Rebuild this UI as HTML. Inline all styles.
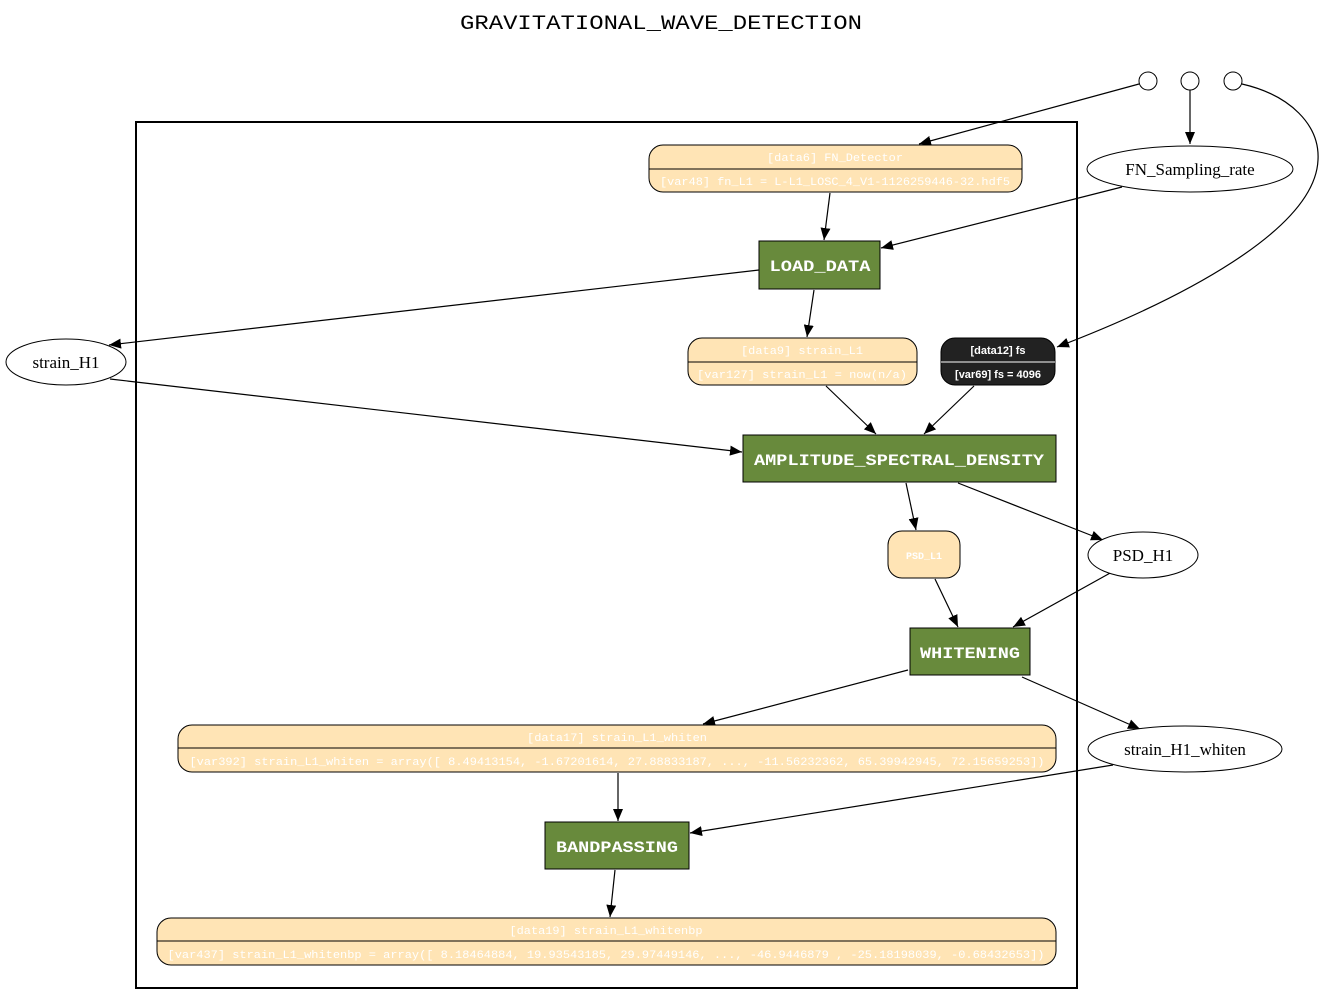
<!DOCTYPE html>
<html><head><meta charset="utf-8"><style>
html,body{margin:0;padding:0;background:#fff;}
svg{display:block;}
.mono{font-family:"Liberation Mono",monospace;}
.serif{font-family:"Liberation Serif",serif;}
.sans{font-family:"Liberation Sans",sans-serif;}
</style></head><body>
<svg width="1323" height="1004" viewBox="0 0 1323 1004" xmlns="http://www.w3.org/2000/svg">
<defs>
<marker id="a" markerWidth="12" markerHeight="10" refX="12" refY="5" orient="auto" markerUnits="userSpaceOnUse">
<path d="M0,0 L12,5 L0,10 Z" fill="#000"/>
</marker>
</defs>
<text x="661" y="29" text-anchor="middle" class="mono" font-size="20" textLength="402" lengthAdjust="spacingAndGlyphs">GRAVITATIONAL_WAVE_DETECTION</text>
<rect x="136" y="122" width="941" height="866" fill="none" stroke="#000" stroke-width="2"/>

<circle cx="1148" cy="81" r="9" fill="#fff" stroke="#000"/>
<circle cx="1190" cy="81" r="9" fill="#fff" stroke="#000"/>
<circle cx="1233" cy="81" r="9" fill="#fff" stroke="#000"/>

<g stroke="#000" stroke-width="1.2" fill="none" marker-end="url(#a)">
<line x1="1139" y1="84" x2="919" y2="144"/>
<line x1="1190" y1="90" x2="1190" y2="144"/>
<path d="M1242,84 C1290,95 1320,125 1318,160 C1315,230 1180,300 1057,347"/>
<line x1="830" y1="193" x2="824" y2="240"/>
<line x1="1122" y1="187" x2="881" y2="248"/>
<line x1="759" y1="270" x2="109" y2="345"/>
<line x1="814" y1="290" x2="807" y2="337"/>
<line x1="110" y1="379" x2="742" y2="452"/>
<line x1="826" y1="386" x2="876" y2="434"/>
<line x1="974" y1="386" x2="924" y2="434"/>
<line x1="906" y1="483" x2="916" y2="530"/>
<line x1="958" y1="483" x2="1103" y2="540"/>
<line x1="935" y1="579" x2="958" y2="627"/>
<line x1="1112" y1="572" x2="1013" y2="627"/>
<line x1="908" y1="670" x2="703" y2="724"/>
<line x1="1022" y1="677" x2="1140" y2="729"/>
<line x1="618" y1="773" x2="618" y2="821"/>
<line x1="1113" y1="765" x2="690" y2="833"/>
<line x1="615" y1="870" x2="610" y2="917"/>
</g>

<g fill="#fff" stroke="#000" stroke-width="1">
<ellipse cx="1190" cy="169" rx="103" ry="23"/>
<ellipse cx="66" cy="362" rx="60" ry="23"/>
<ellipse cx="1143" cy="555" rx="55" ry="23"/>
<ellipse cx="1185" cy="749" rx="97" ry="23"/>
</g>
<g class="serif" font-size="17" text-anchor="middle">
<text x="1190" y="175">FN_Sampling_rate</text>
<text x="66" y="368">strain_H1</text>
<text x="1143" y="561">PSD_H1</text>
<text x="1185" y="755">strain_H1_whiten</text>
</g>

<g fill="#ffe4b5" stroke="#000" stroke-width="1">
<rect x="649" y="145" width="373" height="47" rx="14"/>
<line x1="649" y1="169" x2="1022" y2="169"/>
<rect x="688" y="338" width="229" height="47" rx="14"/>
<line x1="688" y1="362" x2="917" y2="362"/>
<rect x="888" y="531" width="72" height="47" rx="14"/>
<rect x="178" y="725" width="878" height="47" rx="14"/>
<line x1="178" y1="748" x2="1056" y2="748"/>
<rect x="157" y="918" width="899" height="47" rx="14"/>
<line x1="157" y1="941" x2="1056" y2="941"/>
</g>
<rect x="941" y="338" width="114" height="47" rx="14" fill="#222" stroke="#000"/>
<line x1="941" y1="362" x2="1055" y2="362" stroke="#fff" stroke-width="1"/>

<g class="mono" font-size="11" fill="#fff" text-anchor="middle">
<text x="835" y="161" textLength="136" lengthAdjust="spacingAndGlyphs">[data6] FN_Detector</text>
<text x="835" y="185" textLength="350" lengthAdjust="spacingAndGlyphs">[var48] fn_L1 = L-L1_LOSC_4_V1-1126259446-32.hdf5</text>
<text x="802" y="354" textLength="122" lengthAdjust="spacingAndGlyphs">[data9] strain_L1</text>
<text x="802" y="378" textLength="210" lengthAdjust="spacingAndGlyphs">[var127] strain_L1 = now(n/a)</text>
<text x="924" y="559" font-size="10" font-weight="bold">PSD_L1</text>
<text x="617" y="741" textLength="180" lengthAdjust="spacingAndGlyphs">[data17] strain_L1_whiten</text>
<text x="617" y="765" textLength="855" lengthAdjust="spacingAndGlyphs">[var392] strain_L1_whiten = array([ 8.49413154, -1.67201614, 27.88833187, ..., -11.56232362, 65.39942945, 72.15659253])</text>
<text x="606" y="934" textLength="193" lengthAdjust="spacingAndGlyphs">[data19] strain_L1_whitenbp</text>
<text x="606" y="958" textLength="877" lengthAdjust="spacingAndGlyphs">[var437] strain_L1_whitenbp = array([ 8.18464884, 19.93543185, 29.97449146, ..., -46.9446879 , -25.18198039, -0.68432653])</text>
</g>
<g class="sans" font-size="11" fill="#fff" text-anchor="middle" font-weight="bold">
<text x="998" y="354">[data12] fs</text>
<text x="998" y="378">[var69] fs = 4096</text>
</g>

<g fill="#688a3c" stroke="#000" stroke-width="1">
<rect x="759" y="241" width="121" height="48"/>
<rect x="743" y="435" width="313" height="47"/>
<rect x="910" y="628" width="120" height="47"/>
<rect x="545" y="822" width="144" height="47"/>
</g>
<g class="mono" font-size="16" font-weight="bold" fill="#fff" text-anchor="middle">
<text x="820" y="271" textLength="101" lengthAdjust="spacingAndGlyphs">LOAD_DATA</text>
<text x="899" y="465" textLength="290" lengthAdjust="spacingAndGlyphs">AMPLITUDE_SPECTRAL_DENSITY</text>
<text x="970" y="658" textLength="100" lengthAdjust="spacingAndGlyphs">WHITENING</text>
<text x="617" y="852" textLength="122" lengthAdjust="spacingAndGlyphs">BANDPASSING</text>
</g>
</svg>
</body></html>
